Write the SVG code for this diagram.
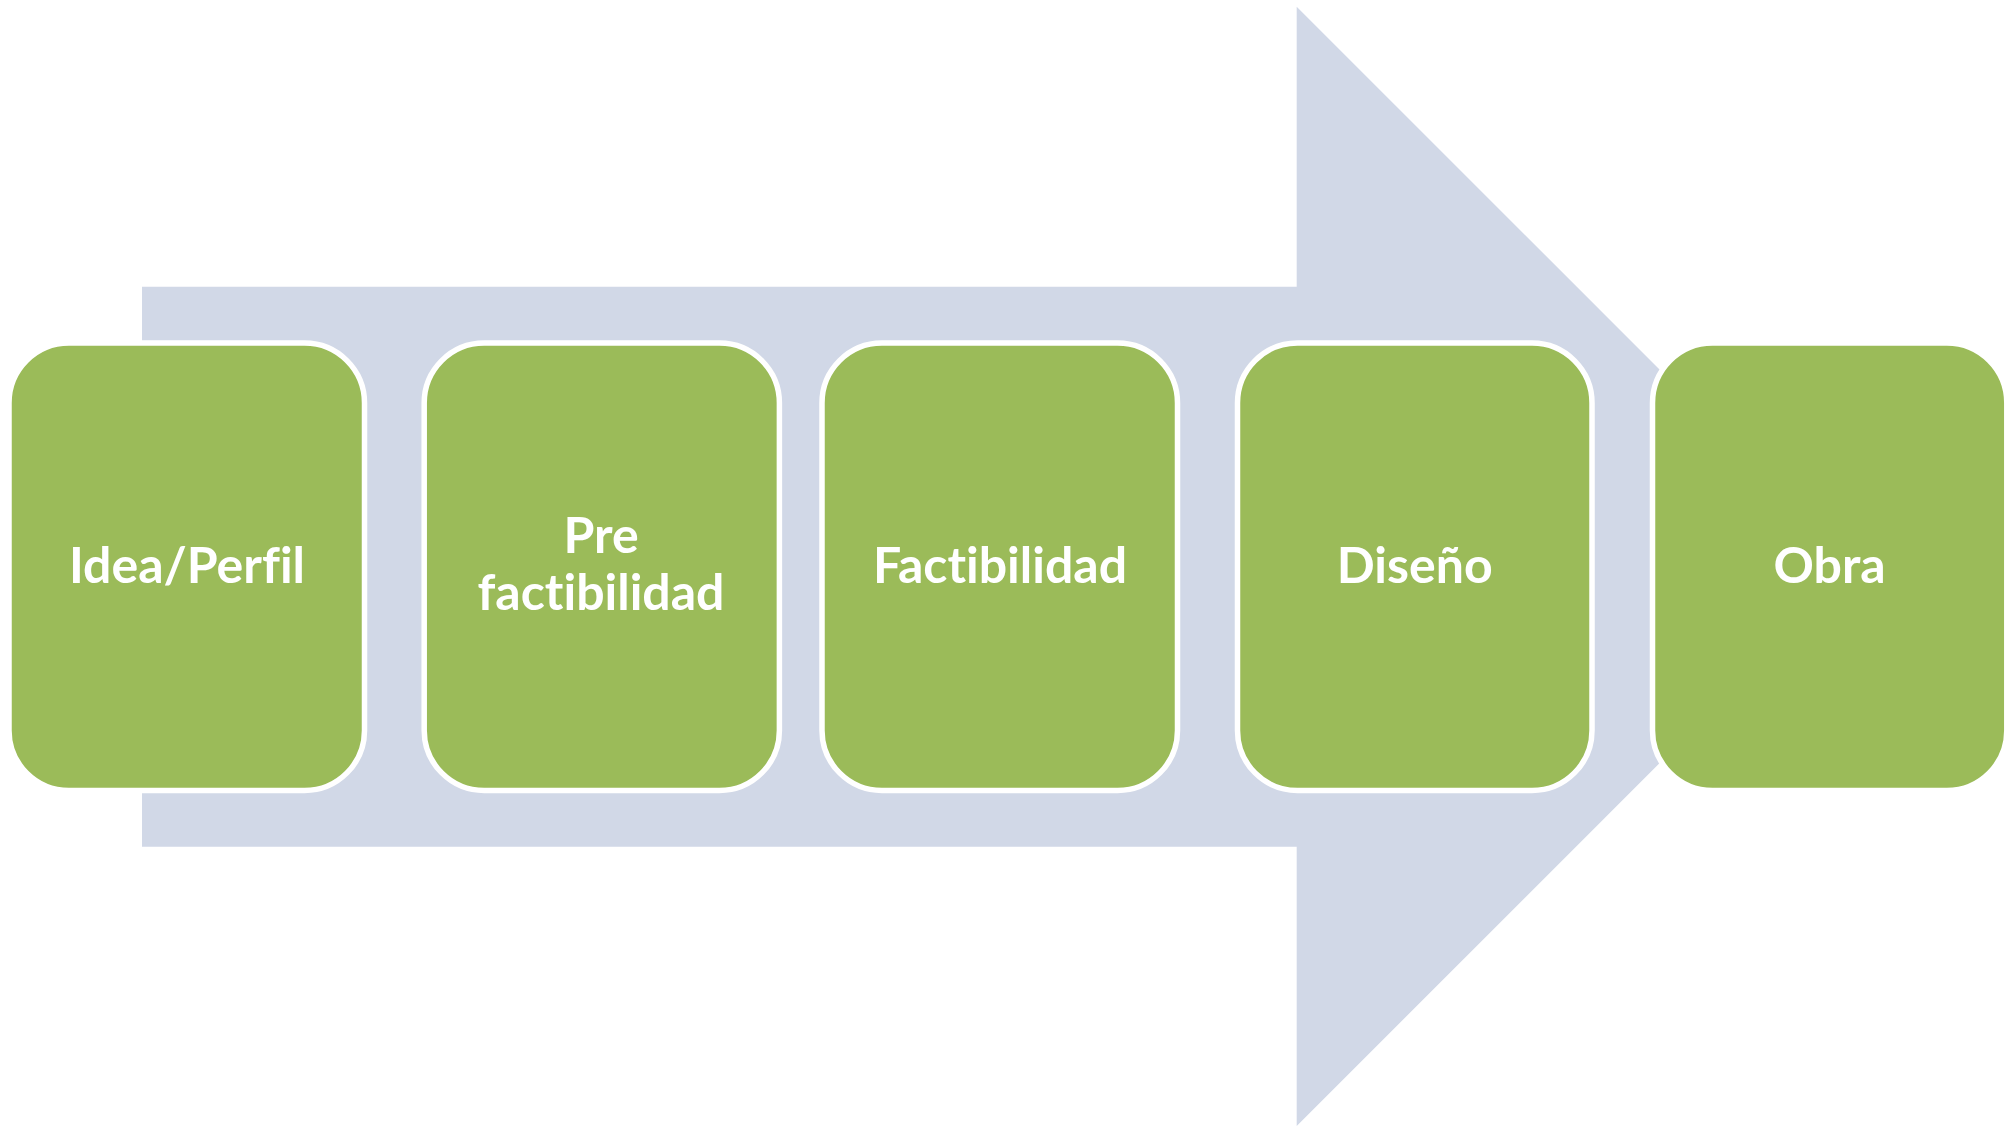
<svg xmlns="http://www.w3.org/2000/svg" width="2009" height="1127" viewBox="0 0 2009 1127">
  <style>
    .box { fill: #9BBB59; stroke: #FFFFFF; stroke-width: 5.5; }
    .lbl { fill: #FFFFFF; font-family: Lato, "Open Sans", "Liberation Sans", sans-serif; font-weight: bold; font-size: 50px; text-anchor: middle; font-variant-ligatures: none; font-feature-settings: "liga" 0, "clig" 0, "dlig" 0; }
  </style>
  <rect width="2009" height="1127" fill="#FFFFFF"/>
  <g id="connectors">
    <polygon id="arrow" points="142,286.7 1296.7,286.7 1296.7,6.7 1856.4,566.3 1296.7,1126 1296.7,846.7 142,846.7" fill="#D1D8E7"/>
  </g>
  <g id="node-idea">
    <rect class="box" x="9" y="343" width="355.5" height="447.5" rx="60" ry="60"/>
    <text class="lbl" x="187" y="583">Idea/Perfil</text>
  </g>
  <g id="node-prefactibilidad">
    <rect class="box" x="424.2" y="343" width="355.2" height="447.5" rx="60" ry="60"/>
    <text class="lbl" x="601" y="553.3">Pre</text>
    <text class="lbl" x="601" y="610">factibilidad</text>
  </g>
  <g id="node-factibilidad">
    <rect class="box" x="822" y="343" width="355.5" height="447.5" rx="60" ry="60"/>
    <text class="lbl" x="1000" y="583">Factibilidad</text>
  </g>
  <g id="node-diseno">
    <rect class="box" x="1237.5" y="343" width="354.5" height="447.5" rx="60" ry="60"/>
    <text class="lbl" x="1414.7" y="583">Diseño</text>
  </g>
  <g id="node-obra">
    <rect class="box" x="1652.5" y="343" width="354.3" height="447.5" rx="60" ry="60"/>
    <text class="lbl" x="1829.6" y="583">Obra</text>
  </g>
</svg>
